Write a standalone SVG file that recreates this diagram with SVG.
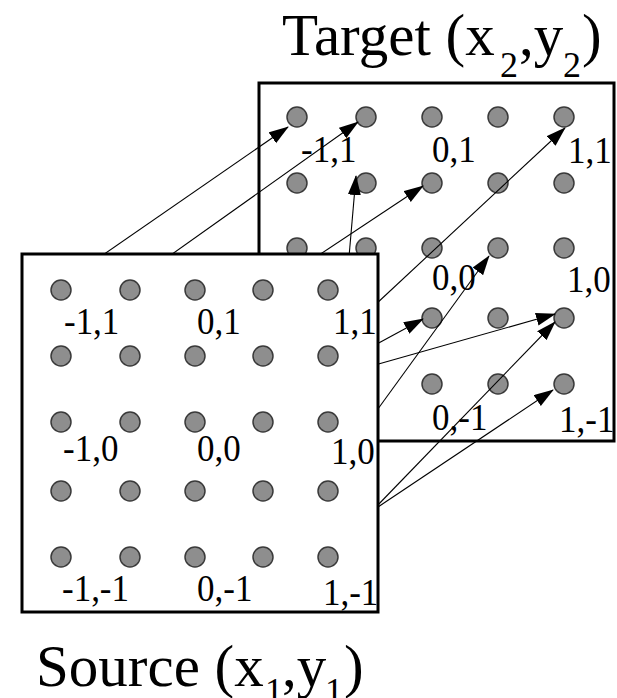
<svg xmlns="http://www.w3.org/2000/svg" width="617" height="698" viewBox="0 0 617 698">
<style>
.box{fill:#fff;stroke:#000;stroke-width:3}
.pt{fill:#8e8e8e;stroke:#3a3a3a;stroke-width:1.5}
.lbl{font-family:"Liberation Serif","Times New Roman",serif;font-size:35px;fill:#000}
.ttl{font-family:"Liberation Serif","Times New Roman",serif;font-size:59px;fill:#000}
.sub{font-size:36px}
.cn{fill:none;stroke:#000;stroke-width:1.1;marker-end:url(#ah)}
</style>
<defs>
<marker id="ah" markerUnits="userSpaceOnUse" markerWidth="21" markerHeight="14" refX="19" refY="6.5" orient="auto">
<path d="M0,0 L20,6.5 L0,13 z" fill="#000"/>
</marker>
</defs>
<rect width="617" height="698" fill="#fff"/>

<g id="target-title">
<text class="ttl" x="282" y="55">Target (x<tspan class="sub" x="500" y="77">2</tspan><tspan x="519" y="55">,y</tspan><tspan class="sub" x="563" y="77">2</tspan><tspan x="582" y="55">)</tspan></text>
</g>

<g id="target">
<rect class="box" x="259" y="83" width="355" height="358"/>
<circle class="pt" cx="297" cy="117" r="10"/><circle class="pt" cx="366" cy="117" r="10"/><circle class="pt" cx="432" cy="117" r="10"/><circle class="pt" cx="498" cy="117" r="10"/><circle class="pt" cx="564" cy="117" r="10"/>
<circle class="pt" cx="297" cy="183" r="10"/><circle class="pt" cx="366" cy="183" r="10"/><circle class="pt" cx="432" cy="183" r="10"/><circle class="pt" cx="498" cy="183" r="10"/><circle class="pt" cx="564" cy="183" r="10"/>
<circle class="pt" cx="297" cy="248" r="10"/><circle class="pt" cx="366" cy="248" r="10"/><circle class="pt" cx="432" cy="248" r="10"/><circle class="pt" cx="498" cy="248" r="10"/><circle class="pt" cx="564" cy="248" r="10"/>
<circle class="pt" cx="432" cy="318" r="10"/><circle class="pt" cx="498" cy="318" r="10"/><circle class="pt" cx="564" cy="318" r="10"/>
<circle class="pt" cx="432" cy="384" r="10"/><circle class="pt" cx="498" cy="384" r="10"/><circle class="pt" cx="564" cy="384" r="10"/>
<g transform="scale(1,1.08)">
<text class="lbl" x="301" y="150">-1,1</text><text class="lbl" x="432" y="150">0,1</text><text class="lbl" x="568" y="150.9">1,1</text>
<text class="lbl" x="432" y="268.5">0,0</text><text class="lbl" x="567" y="270.4">1,0</text>
<text class="lbl" x="432" y="398.1">0,-1</text><text class="lbl" x="559" y="400">1,-1</text>
</g>
</g>

<g id="connectors">
<path class="cn" d="M100,257 L288,127"/>
<path class="cn" d="M168,257 L358,122"/>
<path class="cn" d="M349,257 L356,176"/>
<path class="cn" d="M316,257 L423,186"/>
<path class="cn" d="M375,305 L565,128"/>
<path class="cn" d="M375,345 L423,319"/>
<path class="cn" d="M375,413 L489,256"/>
<path class="cn" d="M375,365 L555,314"/>
<path class="cn" d="M375,508 L555,322"/>
<path class="cn" d="M375,509 L553,390"/>
</g>

<g id="source">
<rect class="box" x="22" y="254" width="356" height="358"/>
<circle class="pt" cx="61" cy="290" r="10"/><circle class="pt" cx="130" cy="290" r="10"/><circle class="pt" cx="195" cy="290" r="10"/><circle class="pt" cx="263" cy="290" r="10"/><circle class="pt" cx="328" cy="290" r="10"/>
<circle class="pt" cx="61" cy="356" r="10"/><circle class="pt" cx="130" cy="356" r="10"/><circle class="pt" cx="195" cy="356" r="10"/><circle class="pt" cx="263" cy="356" r="10"/><circle class="pt" cx="328" cy="356" r="10"/>
<circle class="pt" cx="61" cy="422" r="10"/><circle class="pt" cx="130" cy="422" r="10"/><circle class="pt" cx="195" cy="422" r="10"/><circle class="pt" cx="263" cy="422" r="10"/><circle class="pt" cx="328" cy="422" r="10"/>
<circle class="pt" cx="61" cy="491" r="10"/><circle class="pt" cx="130" cy="491" r="10"/><circle class="pt" cx="195" cy="491" r="10"/><circle class="pt" cx="263" cy="491" r="10"/><circle class="pt" cx="328" cy="491" r="10"/>
<circle class="pt" cx="61" cy="557" r="10"/><circle class="pt" cx="130" cy="557" r="10"/><circle class="pt" cx="195" cy="557" r="10"/><circle class="pt" cx="263" cy="557" r="10"/><circle class="pt" cx="328" cy="557" r="10"/>
<g transform="scale(1,1.08)">
<text class="lbl" x="64" y="309.3">-1,1</text><text class="lbl" x="197" y="309.3">0,1</text><text class="lbl" x="333" y="309.3">1,1</text>
<text class="lbl" x="63" y="426.9">-1,0</text><text class="lbl" x="197" y="426.9">0,0</text><text class="lbl" x="331" y="429.6">1,0</text>
<text class="lbl" x="62" y="556.5">-1,-1</text><text class="lbl" x="197" y="556.5">0,-1</text><text class="lbl" x="323" y="560.2">1,-1</text>
</g>
</g>

<g id="source-title">
<text class="ttl" x="36" y="686">Source (x<tspan class="sub" x="265" y="703">1</tspan><tspan x="282" y="686">,y</tspan><tspan class="sub" x="325" y="703">1</tspan><tspan x="344" y="686">)</tspan></text>
</g>
</svg>
